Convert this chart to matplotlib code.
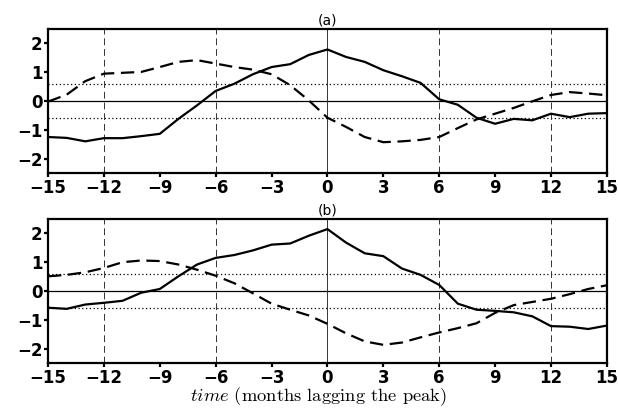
import numpy as np
import matplotlib
matplotlib.use("Agg")
import matplotlib.pyplot as plt

# ------------------------------------------------------------
# data
# ------------------------------------------------------------
months = np.arange(-15, 16)

a_solid = [-1.25, -1.28, -1.40, -1.29, -1.29, -1.22, -1.14, -0.62, -0.15, 0.35,
           0.60, 0.93, 1.18, 1.28, 1.60, 1.79, 1.53, 1.36, 1.07, 0.86,
           0.63, 0.06, -0.13, -0.58, -0.79, -0.62, -0.67, -0.44, -0.56, -0.44, -0.42]
a_dashed = [-0.02, 0.22, 0.69, 0.95, 0.98, 1.01, 1.18, 1.36, 1.42, 1.30,
            1.18, 1.09, 0.93, 0.55, 0.02, -0.58, -0.90, -1.25, -1.43, -1.40,
            -1.35, -1.25, -0.94, -0.64, -0.44, -0.24, -0.01, 0.21, 0.31, 0.26, 0.20]

b_solid = [-0.58, -0.62, -0.47, -0.41, -0.34, -0.06, 0.07, 0.51, 0.92, 1.15,
           1.25, 1.41, 1.61, 1.65, 1.92, 2.15, 1.68, 1.31, 1.21, 0.78,
           0.56, 0.21, -0.44, -0.65, -0.69, -0.74, -0.88, -1.22, -1.24, -1.32, -1.20]
b_dashed = [0.51, 0.56, 0.65, 0.80, 1.00, 1.06, 1.04, 0.92, 0.74, 0.53,
            0.27, -0.08, -0.44, -0.65, -0.85, -1.14, -1.47, -1.75, -1.87, -1.79,
            -1.61, -1.44, -1.29, -1.12, -0.76, -0.49, -0.38, -0.27, -0.11, 0.07, 0.20]

panels = [("(a)", a_solid, a_dashed), ("(b)", b_solid, b_dashed)]
xticks = np.arange(-15, 16, 3)
yticks = [-2, -1, 0, 1, 2]
vlines_dashed = [-12, -6, 6, 12]
sig_level = 0.6

# ------------------------------------------------------------
# figure
# ------------------------------------------------------------
plt.rcParams["mathtext.fontset"] = "cm"
fig = plt.figure(figsize=(6.18, 4.09), dpi=100)
positions = [[0.0777, 0.577, 0.9043, 0.352], [0.0777, 0.1125, 0.9043, 0.352]]

for pos, (title, solid, dashed) in zip(positions, panels):
    ax = fig.add_axes(pos)
    ax.axhline(0, color="black", lw=0.9)
    ax.axhline(sig_level, color="black", lw=0.9, ls=(0, (1, 2)))
    ax.axhline(-sig_level, color="black", lw=0.9, ls=(0, (1, 2)))
    ax.axvline(0, color="#333333", lw=0.7)
    for xv in vlines_dashed:
        ax.axvline(xv, color="#333333", lw=0.7, ls=(0, (7, 4)))

    ax.plot(months, solid, color="black", lw=1.6)
    ax.plot(months, dashed, color="black", lw=1.6, ls=(0, (6, 3)))

    ax.set_xlim(-15, 15)
    ax.set_ylim(-2.5, 2.5)
    ax.set_xticks(xticks)
    ax.set_yticks(yticks)
    ax.set_xticklabels([str(t).replace("-", "\u2212") for t in xticks],
                       fontsize=12, fontweight="bold")
    ax.set_yticklabels([str(t).replace("-", "\u2212") for t in yticks],
                       fontsize=12, fontweight="bold")
    ax.tick_params(direction="out", length=3, width=1.6, pad=1)
    for s in ax.spines.values():
        s.set_linewidth(1.6)
    ax.set_title(title, fontsize=10, pad=3)

fig.text(0.515, 0.02, r"$time$ (months lagging the peak)", ha="center",
         fontsize=13.3, family="cmr10")

plt.savefig("out.png", dpi=100)
